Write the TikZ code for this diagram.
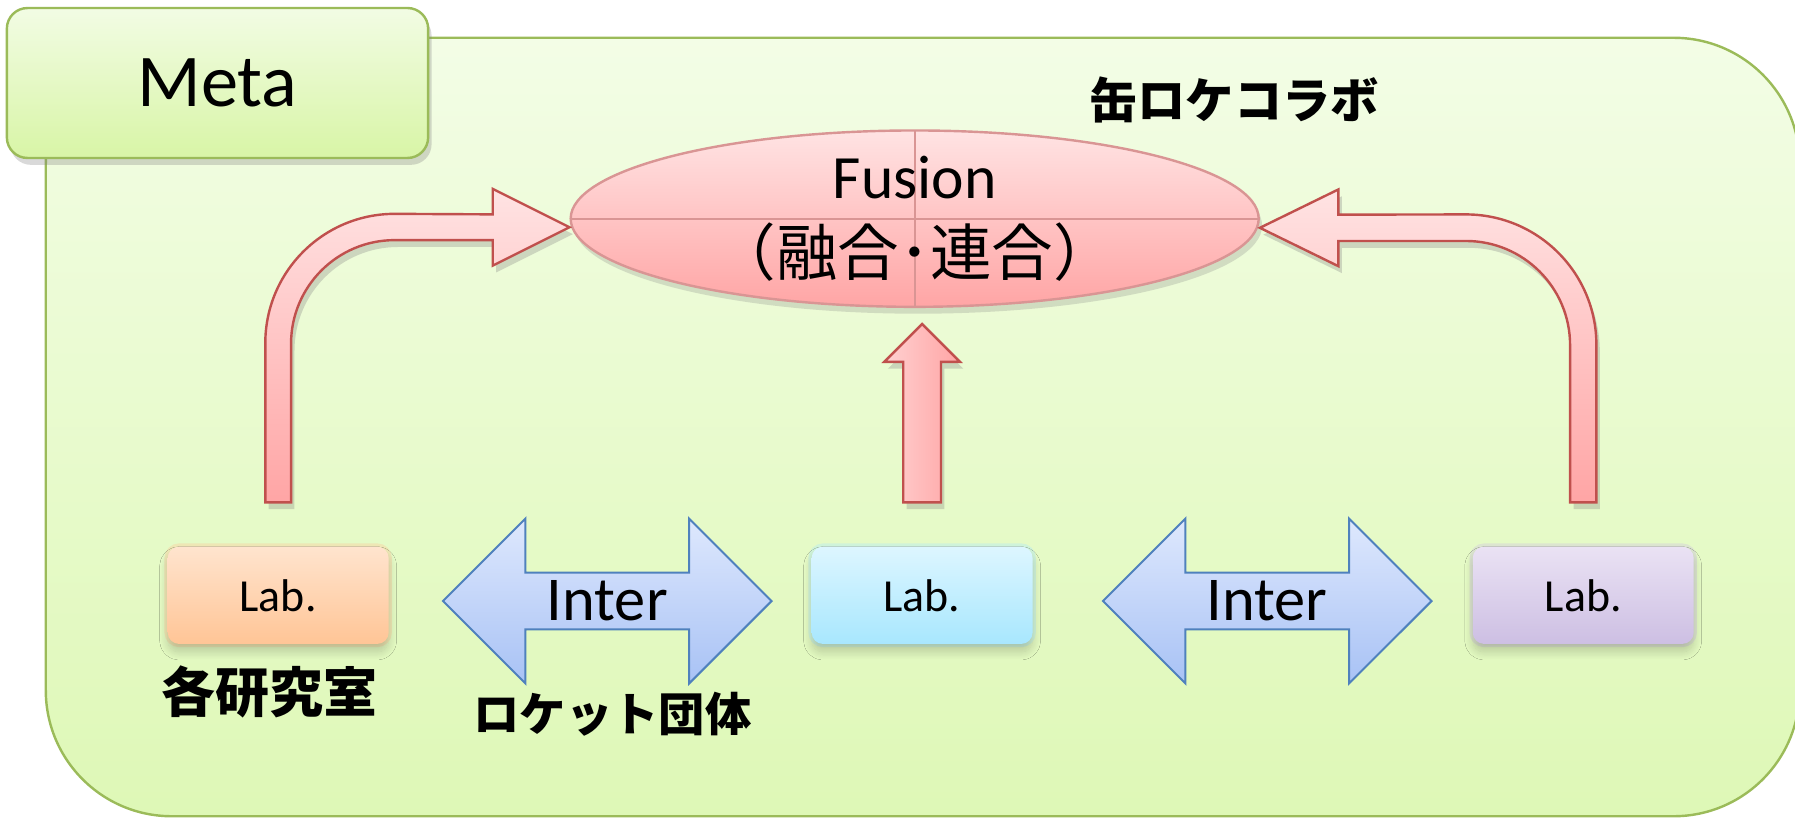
\documentclass[tikz,border=0pt]{standalone}
\usepackage{fontspec}
\setmainfont{Carlito}
\newfontfamily\jpfont{Noto Sans CJK JP}
\usepackage{tikz}
\usetikzlibrary{positioning}
\usetikzlibrary{shapes.geometric}
\usetikzlibrary{shapes.arrows}
\usetikzlibrary{calc}
\usetikzlibrary{shadows}
\usetikzlibrary{shadows.blur}

\definecolor{metagreen}{HTML}{9BBB59}
\definecolor{bgtop}{HTML}{F3FDE6}
\definecolor{bgbot}{HTML}{DEF8B6}
\definecolor{tabtop}{HTML}{F2FCE4}
\definecolor{tabbot}{HTML}{D8F5A6}
\definecolor{pinktop}{HTML}{FFE3E3}
\definecolor{pinkbot}{HTML}{FFA5A5}
\definecolor{fusionline}{HTML}{D99594}
\definecolor{arrowred}{HTML}{C0504D}
\definecolor{bluetop}{HTML}{DEE8FD}
\definecolor{bluebot}{HTML}{A8C2F5}
\definecolor{interline}{HTML}{4F81BD}
\definecolor{orangetop}{HTML}{FFE4CE}
\definecolor{orangebot}{HTML}{FFC596}
\definecolor{cyantop}{HTML}{DDF6FF}
\definecolor{cyanbot}{HTML}{A8E7FE}
\definecolor{lilactop}{HTML}{EAE2F4}
\definecolor{lilacbot}{HTML}{CDBFE3}

\begin{document}
\begin{tikzpicture}[
                >=stealth,
                % Define styles for shapes
                frame/.style={draw=metagreen, line width=0.6pt, rounded corners=11mm, top color=bgtop, bottom color=bgbot},
                tab/.style={draw=metagreen, line width=0.6pt, rounded corners=1.8mm, top color=tabtop, bottom color=tabbot,
                    minimum width=3.68cm, minimum height=1.31cm, font=\fontsize{18.5}{22}\selectfont,
                    drop shadow={opacity=0.3, shadow xshift=0.3mm, shadow yshift=-0.6mm}},
                fusion node/.style={ellipse, draw=fusionline, line width=0.6pt, top color=pinktop, bottom color=pinkbot,
                    minimum width=6.01cm, minimum height=1.54cm, inner sep=0pt, align=center,
                    font=\fontsize{15.3}{19}\selectfont,
                    drop shadow={opacity=0.25, shadow xshift=0.3mm, shadow yshift=-0.6mm},
                    path picture={\draw[fusionline, line width=0.5pt]
                        (path picture bounding box.north) -- (path picture bounding box.south)
                        (path picture bounding box.west) -- (path picture bounding box.east);}},
                lab/.style 2 args={rounded corners=1mm, minimum width=1.93cm, minimum height=0.85cm, inner sep=0pt,
                    top color=#1, bottom color=#2, font=\fontsize{11.4}{13}\selectfont,
                    preaction={draw=#2, line width=1.6pt, draw opacity=0.35},
                    blur shadow={shadow xshift=0pt, shadow yshift=-0.7mm, shadow blur steps=10,
                        shadow blur radius=0.7mm, shadow opacity=18}},
                inter/.style={double arrow, draw=interline, line width=0.5pt, top color=bluetop, bottom color=bluebot,
                    minimum height=2.87cm, minimum width=1.44cm, double arrow head extend=0.355cm,
                    double arrow tip angle=90, inner sep=0pt, font=\fontsize{15.5}{18}\selectfont},
                fat/.style={draw=arrowred, line width=0.6pt, top color=pinktop, bottom color=pinkbot,
                    drop shadow={opacity=0.3, shadow xshift=0.3mm, shadow yshift=-0.6mm}},
                fat up/.style={draw=arrowred, line width=0.6pt, left color=pinktop!70!pinkbot, right color=pinkbot,
                    drop shadow={opacity=0.3, shadow xshift=0.3mm, shadow yshift=-0.6mm}},
                jp label/.style={font=\jpfont\bfseries\fontsize{12}{14}\selectfont}
            ]
                \useasboundingbox (0,0) rectangle (15.68,7.15);

                % Background frame
                \draw[frame] (0.40,0.02) rectangle (15.72,6.82);

                % Define nodes
                \node[tab] (meta) at (1.90,6.425) {Meta};
                \node[fusion node] (fusion) at (7.99,5.24) {Fusion\\{\jpfont （融合･連合）}};

                \node[lab={orangetop}{orangebot}] (lab1) at (2.43,1.95) {Lab.};
                \node[lab={cyantop}{cyanbot}] (lab2) at (8.055,1.95) {Lab.};
                \node[lab={lilactop}{lilacbot}] (lab3) at (13.83,1.95) {Lab.};

                \node[inter] (inter1) at (5.305,1.90) {Inter};
                \node[inter] (inter2) at (11.07,1.90) {Inter};

                \node[jp label, font=\jpfont\bfseries\fontsize{13.4}{15}\selectfont] (kaku) at (2.355,1.11) {各研究室};
                \node[jp label, font=\jpfont\bfseries\fontsize{11.5}{14}\selectfont] (rocket) at (5.35,0.91) {ロケット団体};
                \node[jp label] (collab) at (10.78,6.28) {缶ロケコラボ};

                % Arrow ends
                \coordinate (lsrc) at ($(lab1.north)+(0,0.38)$);
                \coordinate (msrc) at ($(lab2.north)+(0,0.38)$);
                \coordinate (rsrc) at ($(lab3.north)+(0,0.38)$);
                \coordinate (ltip) at ($(fusion.west)+(0,-0.075)$);
                \coordinate (rtip) at ($(fusion.east)+(0,-0.08)$);
                \coordinate (mtip) at ($(lab2.north |- fusion.south)+(0,-0.14)$);

                % Bent arrow from the left lab
                \path[fat] ($(lsrc)+(-0.1125,0)$) -- ($(lsrc)+(-0.1125,1.39)$) arc[start angle=180, end angle=90, radius=1.13]
                    -- ($(ltip)+(-0.67,0.1125)$) -- ($(ltip)+(-0.67,0.335)$) -- (ltip)
                    -- ($(ltip)+(-0.67,-0.335)$) -- ($(ltip)+(-0.67,-0.1125)$)
                    -- ($(lsrc |- ltip)+(1.0175,-0.1125)$) arc[start angle=90, end angle=180, radius=0.905]
                    -- ($(lsrc)+(0.1125,0)$) -- cycle;

                % Bent arrow from the right lab
                \path[fat] ($(rsrc)+(0.115,0)$) -- ($(rsrc)+(0.115,1.375)$) arc[start angle=0, end angle=90, radius=1.14]
                    -- ($(rtip)+(0.685,0.115)$) -- ($(rtip)+(0.685,0.335)$) -- (rtip)
                    -- ($(rtip)+(0.685,-0.335)$) -- ($(rtip)+(0.685,-0.115)$)
                    -- ($(rsrc |- rtip)+(-1.025,-0.115)$) arc[start angle=90, end angle=0, radius=0.91]
                    -- ($(rsrc)+(-0.115,0)$) -- cycle;

                % Straight arrow from the middle lab
                \path[fat up] ($(msrc)+(-0.165,0)$) -- ($(mtip)+(-0.165,-0.33)$) -- ($(mtip)+(-0.33,-0.33)$) -- (mtip)
                    -- ($(mtip)+(0.33,-0.33)$) -- ($(mtip)+(0.165,-0.33)$) -- ($(msrc)+(0.165,0)$) -- cycle;
            \end{tikzpicture}
\end{document}
